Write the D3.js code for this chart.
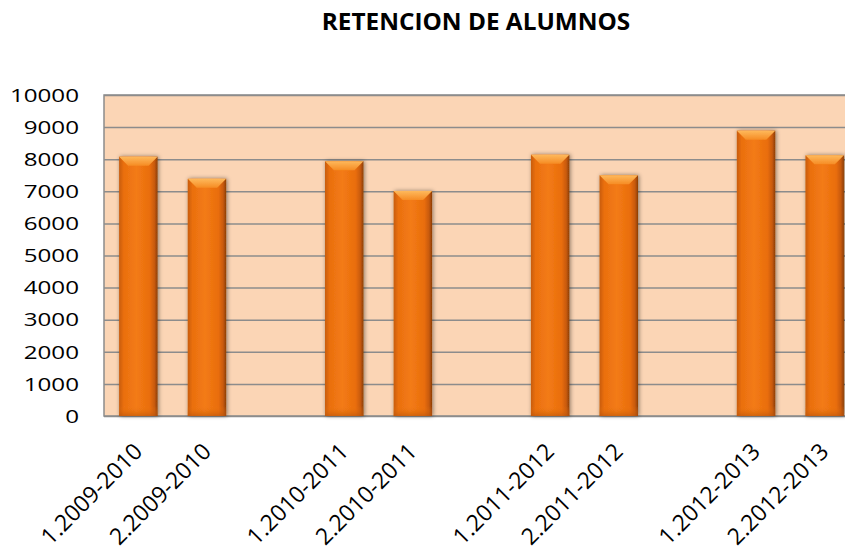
<!DOCTYPE html>
<html>
<head>
<meta charset="utf-8">
<script src="https://cdn.jsdelivr.net/npm/d3@7"></script>
<style>
  body { margin: 0; background: #fff; }
  svg { display: block; font-family: "Open Sans", sans-serif; }
</style>
</head>
<body>
<div id="chart"></div>
<script>
// data (empty slots kept as gaps)
const categories = ['1.2009-2010', '2.2009-2010', '', '1.2010-2011', '2.2010-2011', '',
  '1.2011-2012', '2.2011-2012', '', '1.2012-2013', '2.2012-2013'];
const values = [8080, 7390, null, 7940, 7010, null, 8140, 7500, null, 8890, 8120];
const yTicks = [0, 1000, 2000, 3000, 4000, 5000, 6000, 7000, 8000, 9000, 10000];
const title = 'RETENCION DE ALUMNOS';

const W = 845, H = 548;
const plot = {left: 104, right: 859, top: 95, bottom: 416};

const svg = d3.select('#chart').append('svg')
  .attr('width', W).attr('height', H);

const defs = svg.append('defs');

const body = defs.append('linearGradient').attr('id', 'barBody')
  .attr('x1', 0).attr('x2', 1).attr('y1', 0).attr('y2', 0);
[[0, '#c85c0a'], [0.12, '#ea6f10'], [0.45, '#f37b14'], [0.8, '#e96d0e'], [0.92, '#c85a08'], [1, '#8c3e06']]
  .forEach(([o, c]) => body.append('stop').attr('offset', o).attr('stop-color', c));

const cap = defs.append('linearGradient').attr('id', 'barCap')
  .attr('x1', 0).attr('x2', 0).attr('y1', 0).attr('y2', 1);
[[0, '#feb95c'], [1, '#f68c24']]
  .forEach(([o, c]) => cap.append('stop').attr('offset', o).attr('stop-color', c));

const bottomShade = defs.append('linearGradient').attr('id', 'barBottom')
  .attr('x1', 0).attr('x2', 0).attr('y1', 0).attr('y2', 1);
[[0, '#f27a14', 0], [1, '#b85408', 0.6]]
  .forEach(([o, c, a]) => bottomShade.append('stop').attr('offset', o).attr('stop-color', c).attr('stop-opacity', a));

defs.append('filter').attr('id', 'shadow')
  .attr('x', '-30%').attr('y', '-10%').attr('width', '160%').attr('height', '120%')
  .append('feDropShadow')
  .attr('dx', 1).attr('dy', 0).attr('stdDeviation', 2)
  .attr('flood-color', '#000').attr('flood-opacity', 0.45);

const x = d3.scaleBand()
  .domain(d3.range(categories.length))
  .range([plot.left, plot.right])
  .paddingInner(0.44)
  .paddingOuter(0.22);

const y = d3.scaleLinear()
  .domain([0, 10000])
  .range([plot.bottom, plot.top]);

// plot background
svg.append('rect')
  .attr('x', plot.left).attr('y', plot.top)
  .attr('width', plot.right - plot.left).attr('height', plot.bottom - plot.top)
  .attr('fill', '#fbd5b5')
  .attr('stroke', '#8c8c8c').attr('stroke-width', 1.5);

// gridlines
svg.append('g')
  .attr('transform', `translate(${plot.left},0)`)
  .call(d3.axisLeft(y).tickValues(yTicks).tickSize(-(plot.right - plot.left)).tickFormat(''))
  .call(g => g.select('.domain').remove())
  .call(g => g.selectAll('line').attr('stroke', '#8c8c8c').attr('stroke-width', 1.5));

// y labels
svg.append('g')
  .selectAll('text')
  .data(yTicks)
  .join('text')
  .attr('transform', d => `translate(79,${y(d)}) scale(1.3,1)`)
  .attr('text-anchor', 'end')
  .attr('dy', '0.36em')
  .attr('font-size', 18.6)
  .attr('fill', '#000')
  .text(d => d);

// bars
const data = values.map((v, i) => ({i, v, label: categories[i]})).filter(d => d.v != null);
const bw = x.bandwidth();
const bevel = 9;

const bars = svg.append('g').selectAll('g')
  .data(data)
  .join('g')
  .attr('filter', 'url(#shadow)');

bars.append('rect')
  .attr('x', d => x(d.i))
  .attr('y', d => y(d.v))
  .attr('width', bw)
  .attr('height', d => y(0) - y(d.v))
  .attr('fill', 'url(#barBody)');

bars.append('rect')
  .attr('x', d => x(d.i))
  .attr('y', y(0) - 10)
  .attr('width', bw)
  .attr('height', 10)
  .attr('fill', 'url(#barBottom)');

bars.append('path')
  .attr('d', d => {
    const x0 = x(d.i), x1 = x0 + bw, t = y(d.v);
    return `M${x0},${t}L${x1},${t}L${x1 - bevel},${t + bevel}L${x0 + bevel},${t + bevel}Z`;
  })
  .attr('fill', 'url(#barCap)');

// x labels, rotated 45 degrees
svg.append('g')
  .selectAll('text')
  .data(data)
  .join('text')
  .attr('transform', d => `translate(${x(d.i) + bw / 2 + 5.5},${plot.bottom + 37}) rotate(-45)`)
  .attr('text-anchor', 'end')
  .attr('font-size', 23)
  .attr('fill', '#000')
  .text(d => d.label);

// title
svg.append('text')
  .attr('transform', `translate(476,30) scale(1.04,1)`)
  .attr('text-anchor', 'middle')
  .attr('font-size', 23.4)
  .attr('font-weight', 'bold')
  .attr('fill', '#000')
  .text(title);
</script>
</body>
</html>
